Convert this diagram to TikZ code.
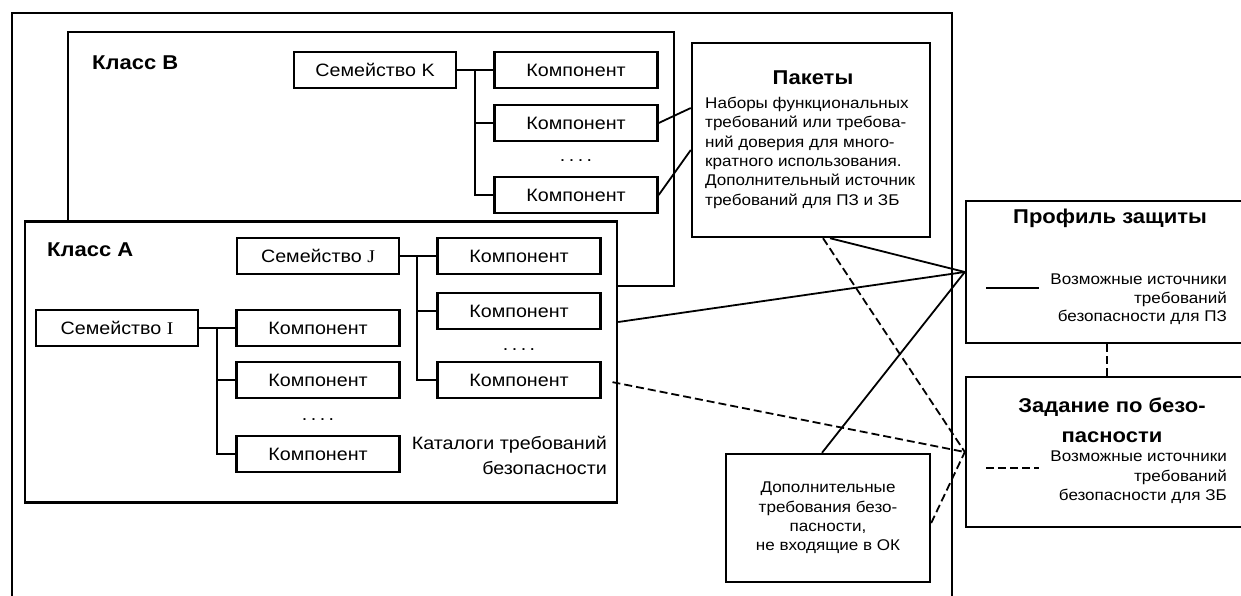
\documentclass[tikz,border=0pt]{standalone}
\usepackage{fontspec}
\setmainfont[FakeStretch=1.1]{Liberation Sans}
\newfontfamily\serifI[FakeStretch=1.1]{Liberation Serif}
\usetikzlibrary{calc}
\newcommand\fsbox{\fontsize{17.9}{21}\selectfont}
\newcommand\fsreg{\fontsize{15.5}{19.3}\selectfont}
\newcommand\fsbig{\fontsize{20}{30}\selectfont\bfseries}
\newcommand\fourdots{.\hspace{3.5pt}.\hspace{3.5pt}.\hspace{3.5pt}.}
\begin{document}
\begin{tikzpicture}[x=1pt,y=-1pt,
  box/.style={draw, line width=2.4pt, fill=white, inner sep=0pt, font=\fsbox},
  comp/.style={box, minimum width=163pt, minimum height=36pt},
  fam/.style={box, minimum width=162pt, minimum height=36pt},
  conn/.style={line width=1.8pt},
  dconn/.style={conn, dash pattern=on 8pt off 4pt},
  tree/.style={line width=2.2pt},
  txt/.style={inner sep=0pt, font=\fsreg},
  dots/.style={inner sep=0pt, font=\fsbox, anchor=base},
  ttl/.style={inner sep=0pt, font=\fsbig}]
\useasboundingbox (0,0) rectangle (1241,596);
% outer frame
\draw[line width=2.4pt] (12,600) -- (12,13) -- (952,13) -- (952,600);
% class B
\node[box, minimum width=606pt, minimum height=254pt] (clsB) at (371,159) {};
\node[ttl, anchor=west] (lblB) at (92,63) {Класс B};
\node[fam] (semK) at (375,70) {Семейство K};
\node[comp] (kB1) at (576,70) {Компонент};
\node[comp] (kB2) at (576,123) {Компонент};
\node[comp] (kB3) at (576,195) {Компонент};
\node[dots] (dotB) at (576,162) {\fourdots};
\coordinate (tK) at (475,70);
\draw[tree] (semK.east) -- (kB1.west);
\draw[tree] (tK) |- (kB2.west);
\draw[tree] (tK) |- (kB3.west);
% class A
\node[box, minimum width=592pt, minimum height=281pt] (clsA) at (321,362) {};
\node[ttl, anchor=west] (lblA) at (47,250) {Класс A};
\node[fam] (semJ) at (318,256) {Семейство {\serifI J}};
\node[comp] (kJ1) at (519,256) {Компонент};
\node[comp] (kJ2) at (519,311) {Компонент};
\node[comp] (kJ3) at (519,380) {Компонент};
\node[dots] (dotJ) at (519,350) {\fourdots};
\coordinate (tJ) at (417,256);
\draw[tree] (semJ.east) -- (kJ1.west);
\draw[tree] (tJ) |- (kJ2.west);
\draw[tree] (tJ) |- (kJ3.west);
\node[fam] (semI) at (117,328) {Семейство {\serifI I}};
\node[comp] (kI1) at (318,328) {Компонент};
\node[comp] (kI2) at (318,380) {Компонент};
\node[comp] (kI3) at (318,454) {Компонент};
\node[dots] (dotI) at (318,420) {\fourdots};
\coordinate (tI) at (217,328);
\draw[tree] (semI.east) -- (kI1.west);
\draw[tree] (tI) |- (kI2.west);
\draw[tree] (tI) |- (kI3.west);
\node[inner sep=0pt, align=right, anchor=north east, font=\fontsize{17.9}{25}\selectfont] (cat) at (607,436) {Каталоги требований\\безопасности};
% packages
\node[box, minimum width=238pt, minimum height=194pt] (pak) at (811,140) {};
\node[ttl] (pakT) at (813,78) {Пакеты};
\node[txt, align=left, anchor=north west] (pakB) at (705,97) {Наборы функциональных\\требований или требова-\\ний доверия для много-\\кратного использования.\\Дополнительный источник\\требований для ПЗ и ЗБ};
% protection profile
\node[box, minimum width=294pt, minimum height=142pt] (prof) at (1113,272) {};
\node[ttl] (profT) at (1110,218) {Профиль защиты};
\draw[conn] (986,288) -- (1039,288);
\node[txt, align=right, anchor=north east, font=\fontsize{15.5}{18.5}\selectfont] (profL) at (1227,274) {Возможные источники\\требований\\безопасности для ПЗ};
% security target
\node[box, minimum width=294pt, minimum height=150pt] (zad) at (1113,452) {};
\node[ttl, align=center] (zadT) at (1112,420) {Задание по безо-\\пасности};
\draw[dconn] (986,468) -- (1039,468);
\node[txt, align=right, anchor=north east, font=\fontsize{15.5}{19.5}\selectfont] (zadL) at (1227,451) {Возможные источники\\требований\\безопасности для ЗБ};
% additional
\node[box, minimum width=204pt, minimum height=128pt, align=center, font=\fsreg] (dop) at (828,518) {Дополнительные\\требования безо-\\пасности,\\не входящие в ОК};
% connectors
\coordinate (lx) at (1107,0);
\draw[conn] (kB2.east) -- (pak.west |- 0,108);
\draw[conn] (kB3.east) -- (pak.west |- 0,150);
\draw[conn] (clsA.east |- 0,322) -- (prof.west);
\draw[conn] (pak.south -| 830,0) -- (prof.west);
\draw[conn] (dop.north -| 822,0) -- (prof.west);
\draw[dconn] (pak.south -| 823,0) -- (zad.west);
\draw[dconn, shorten <=11pt] (kJ3.east) -- (zad.west);
\draw[dconn] (dop.east |- 0,523) -- (zad.west);
\draw[dconn] (prof.south -| lx) -- (zad.north -| lx);
\end{tikzpicture}
\end{document}
